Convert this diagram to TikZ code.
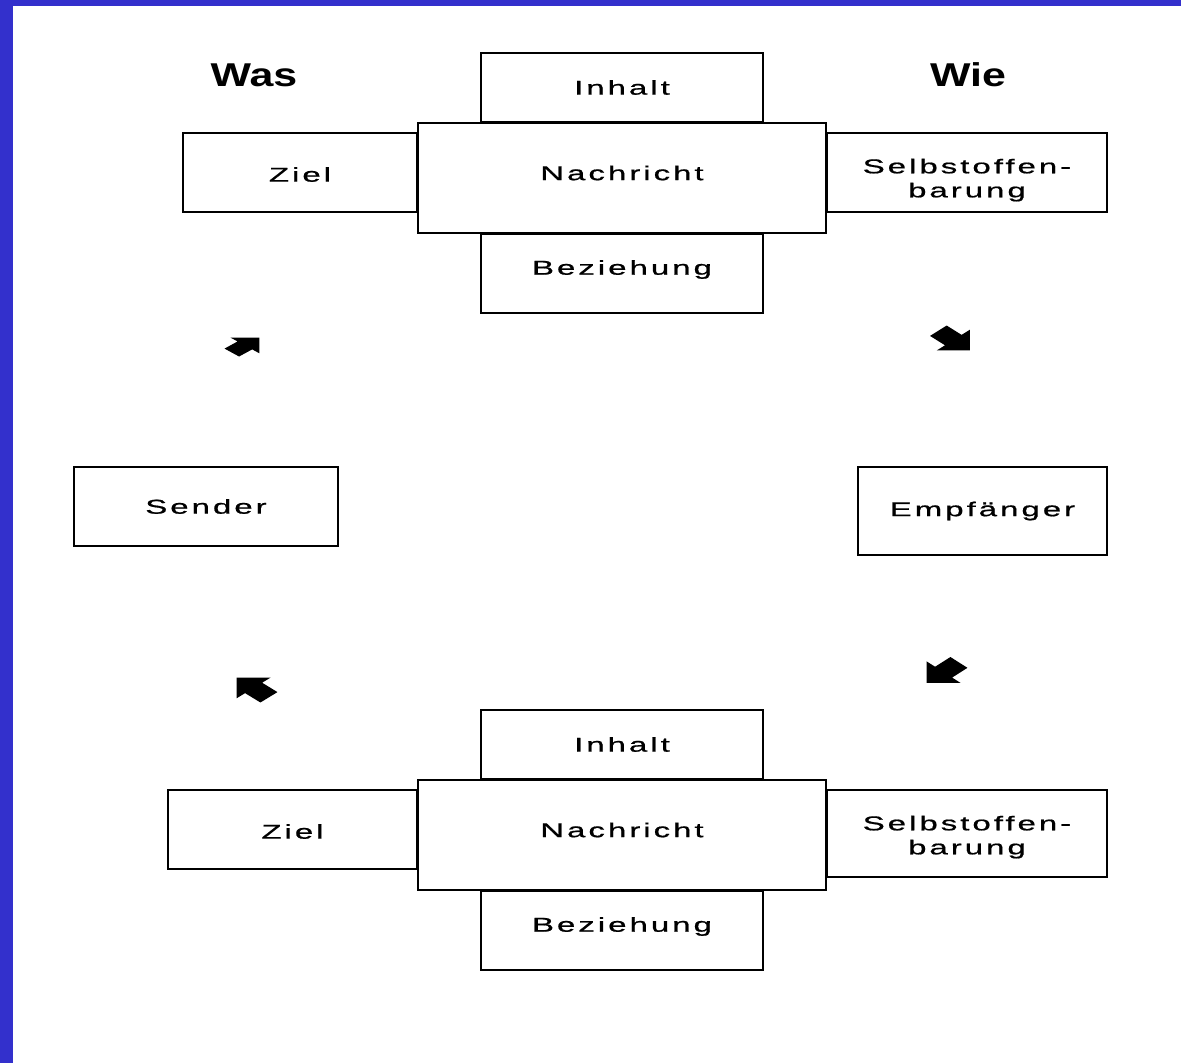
\documentclass[tikz,border=0pt]{standalone}
\usepackage{fontspec}
\newfontfamily\boxfont[FakeStretch=1.65,LetterSpace=15,FakeBold=0.8]{Liberation Sans}
\newfontfamily\headfont[FakeStretch=1.3]{Liberation Sans}
\definecolor{framebl}{RGB}{51,48,204}
\newcommand{\nudge}[2]{\raisebox{#1}[\height][\depth]{#2}}
\tikzset{
    blockarrow/.pic={
        \fill (0.848,0.848) -- (-0.566,0.848) -- (-0.213,0.495) -- (-0.849,-0.142)
            -- (-0.142,-0.849) -- (0.495,-0.213) -- (0.848,-0.566) -- cycle;
    }
}
\begin{document}
\begin{tikzpicture}[x=1pt,y=-1pt]
                \useasboundingbox (0,0) rectangle (1181,1063);
                \fill[white] (0,0) rectangle (1181,1063);
                \fill[framebl] (0,0) rectangle (1181,6);
                \fill[framebl] (0,0) rectangle (13,1063);

                \node[font=\headfont\bfseries\fontsize{33}{36}\selectfont] (was) at (254,75) {Was};
                \node[font=\headfont\bfseries\fontsize{33}{36}\selectfont] (wie) at (968,75) {Wie};

                \begin{scope}[
                        every node/.style={draw, line width=1.1pt, inner sep=0pt,
                            font=\boxfont\fontsize{20}{24}\selectfont}
                    ]

                    % oben
                    \node[minimum width=282pt, minimum height=69pt] (inh1) at (622,87.5) {Inhalt};
                    \node[minimum width=282pt, minimum height=79pt] (bez1) at (622,273.5) {\nudge{4pt}{Beziehung}};
                    \node[minimum width=234pt, minimum height=79pt] (ziel1) at (300,172.5) {\nudge{-2pt}{Ziel}};
                    \node[minimum width=280pt, minimum height=79pt] (selbst1) at (967,172.5)
                        {\nudge{-8pt}{\begin{tabular}{@{}c@{}}Selbstoffen-\\barung\end{tabular}}};
                    \node[fill=white, minimum width=408pt, minimum height=110pt] (nach1) at (622,178) {\nudge{5pt}{Nachricht}};

                    \node[minimum width=264pt, minimum height=79pt] (sender) at (206,506.5) {Sender};
                    \node[minimum width=249pt, minimum height=88pt] (empf) at (982.5,511) {Empfänger};

                    % unten
                    \node[minimum width=282pt, minimum height=69pt] (inh2) at (622,744.5) {Inhalt};
                    \node[minimum width=282pt, minimum height=79pt] (bez2) at (622,930.5) {\nudge{4pt}{Beziehung}};
                    \node[minimum width=249pt, minimum height=79pt] (ziel2) at (292.5,829.5) {\nudge{-2pt}{Ziel}};
                    \node[minimum width=280pt, minimum height=87pt] (selbst2) at (967,833.5)
                        {\nudge{-4pt}{\begin{tabular}{@{}c@{}}Selbstoffen-\\barung\end{tabular}}};
                    \node[fill=white, minimum width=408pt, minimum height=110pt] (nach2) at (622,835) {\nudge{5pt}{Nachricht}};
                \end{scope}

                % Pfeile
                \pic[xscale=20.6, yscale=-11.2] at (242,347) {blockarrow};
                \pic[xscale=23.5, yscale=14.7] at (950,338) {blockarrow};
                \pic[xscale=-24.1, yscale=-14.7] at (257,690) {blockarrow};
                \pic[xscale=-24.1, yscale=15.3] at (947,670) {blockarrow};
            \end{tikzpicture}
\end{document}
